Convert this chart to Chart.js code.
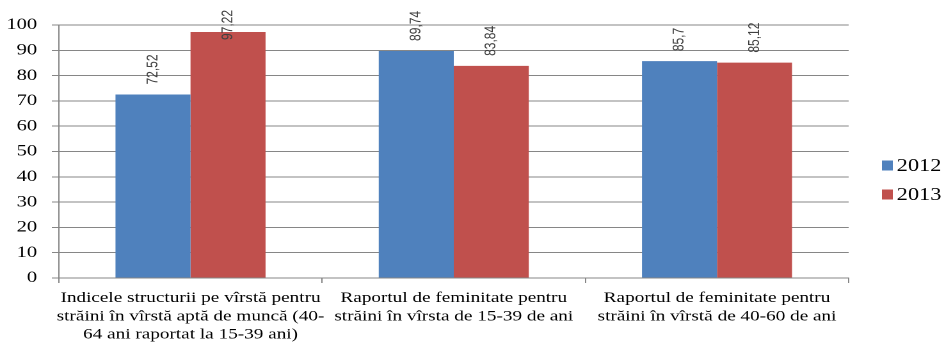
<!DOCTYPE html>
<html>
<head>
<meta charset="utf-8">
<script src="https://cdn.jsdelivr.net/npm/chart.js@4.4.0/dist/chart.umd.min.js"></script>
<style>
  html, body { margin: 0; padding: 0; background: #fff; overflow: hidden; }
  #wrap {
    width: 735px; height: 343px;
    transform: scaleX(1.28); transform-origin: 0 0;
  }
</style>
</head>
<body>
<div id="wrap"><canvas id="chart"></canvas></div>
<script>
const categories = [
    ['Indicele structurii pe vîrstă pentru', 'străini în vîrstă aptă de muncă (40-', '64 ani raportat la 15-39 ani)'],
    ['Raportul de feminitate pentru', 'străini în vîrsta de 15-39 de ani'],
    ['Raportul de feminitate pentru', 'străini în vîrstă de 40-60 de ani']
];
const years = ['2012', '2013'];
const values2012 = [72.52, 89.74, 85.7];
const values2013 = [97.22, 83.84, 85.12];
const yTicks = [0, 10, 20, 30, 40, 50, 60, 70, 80, 90, 100];

const SERIF = "'Liberation Serif', 'Times New Roman', serif";
const GRID = '#868686';

// rotated value labels above each bar, pushed down when they would leave the canvas
const valueLabels = {
    id: 'valueLabels',
    afterDatasetsDraw(chart) {
        const ctx = chart.ctx;
        ctx.save();
        ctx.font = "12px 'Liberation Sans', Arial, sans-serif";
        ctx.fillStyle = '#404040';
        ctx.textAlign = 'left';
        ctx.textBaseline = 'middle';
        chart.data.datasets.forEach((ds, i) => {
            chart.getDatasetMeta(i).data.forEach((bar, j) => {
                const txt = String(ds.data[j]).replace('.', ',');
                const w = ctx.measureText(txt).width;
                let bottom = bar.y - 10;
                if (bottom - w < 10) bottom = 10 + w;
                ctx.save();
                ctx.translate(bar.x, bottom);
                ctx.rotate(-Math.PI / 2);
                ctx.fillText(txt, 0, 0);
                ctx.restore();
            });
        });
        ctx.restore();
    }
};

// legend on the right, drawn by hand
const sideLegend = {
    id: 'sideLegend',
    afterDraw(chart) {
        const ctx = chart.ctx;
        ctx.save();
        ctx.font = '17.5px ' + SERIF;
        ctx.textBaseline = 'middle';
        ctx.textAlign = 'left';
        chart.data.datasets.forEach((ds, i) => {
            const cy = 165.5 + i * 29;
            ctx.fillStyle = ds.backgroundColor;
            ctx.fillRect(689, cy - 5, 8.5, 10);
            ctx.fillStyle = '#000';
            ctx.fillText(ds.label, 700.5, cy + 1);
        });
        ctx.restore();
    }
};

new Chart(document.getElementById('chart'), {
    type: 'bar',
    data: {
        labels: categories,
        datasets: [
            { label: years[0], data: values2012, backgroundColor: '#4F81BD' },
            { label: years[1], data: values2013, backgroundColor: '#C0504D' }
        ]
    },
    options: {
        responsive: true,
        maintainAspectRatio: false,
        devicePixelRatio: 2,
        animation: false,
        layout: { padding: { top: 25, right: 72, left: 0, bottom: 0 } },
        datasets: { bar: { categoryPercentage: 0.57, barPercentage: 1.0 } },
        plugins: {
            legend: { display: false },
            tooltip: { enabled: false }
        },
        scales: {
            x: {
                afterFit(scale) { scale.height = 65; },
                grid: { offset: true, drawOnChartArea: false, tickLength: 5, color: GRID },
                border: { color: GRID },
                ticks: {
                    color: '#000',
                    padding: 6,
                    maxRotation: 0,
                    autoSkip: false,
                    font: { family: SERIF, size: 15, lineHeight: 1.22 }
                }
            },
            y: {
                min: 0,
                max: 100,
                afterFit(scale) { scale.width = 46; },
                afterBuildTicks(scale) { scale.ticks = yTicks.map(v => ({ value: v })); },
                grid: { color: GRID, tickLength: 5.5 },
                border: { color: GRID },
                ticks: {
                    color: '#000',
                    padding: 11.5,
                    font: { family: SERIF, size: 16 }
                }
            }
        }
    },
    plugins: [valueLabels, sideLegend]
});
</script>
</body>
</html>
